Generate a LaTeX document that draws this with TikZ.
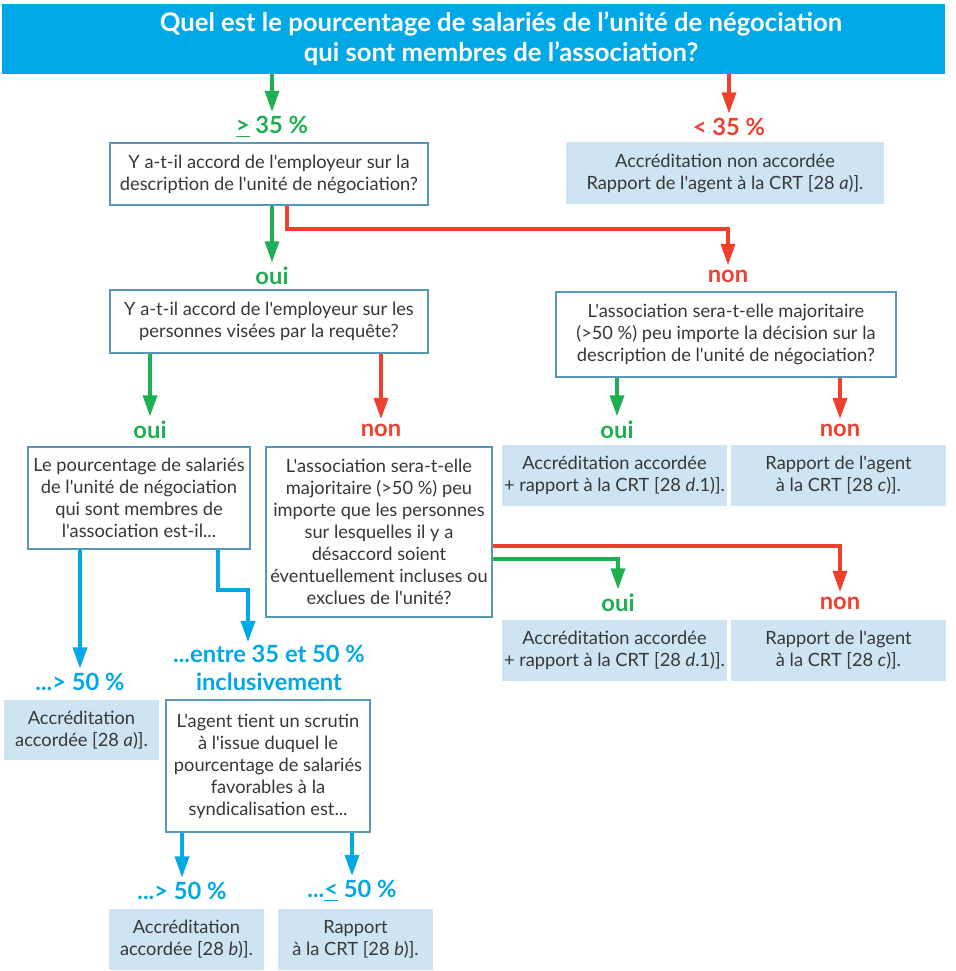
\documentclass[tikz,border=0pt]{standalone}
\usepackage{fontspec}
\setmainfont{Lato}[Ligatures=TeXOff]
\usetikzlibrary{arrows.meta}
\definecolor{bleu}{RGB}{0,169,230}
\definecolor{vert}{RGB}{30,176,80}
\definecolor{rouge}{RGB}{238,64,46}
\definecolor{cadre}{RGB}{88,152,184}
\definecolor{fond}{RGB}{205,229,242}
\definecolor{texte}{RGB}{55,55,55}
\tikzset{every node/.style={text=texte, font=\fontsize{10.4}{12.5}\selectfont, align=center, inner sep=1pt},
  quest/.style={draw=cadre, line width=1.1pt, fill=white},
  resu/.style={fill=fond},
  etiq/.style={font=\fontsize{13.5}{14}\selectfont\bfseries, inner sep=2.5pt},
  fl/.style={line width=1.9pt, -{Triangle[length=12pt,width=8pt]}}}

\begin{document}
\begin{tikzpicture}[x=0.02cm,y=-0.02cm]
   \useasboundingbox (0,0) rectangle (956,971);
   % titre
   \node[fill=bleu, minimum width=18.86cm, minimum height=1.4cm, text=white,
         font=\fontsize{14.6}{17}\selectfont\bfseries] (titre) at (473.5,39)
         {\hspace*{1.1cm}Quel est le pourcentage de salariés de l’unité de négociation\\\hspace*{1.1cm}qui sont membres de l’association?};
   % questions
   \node[quest, minimum width=6.36cm, minimum height=1.24cm] (q1) at (269,174)
         {Y a-t-il accord de l'employeur sur la\\description de l'unité de négociation?};
   \node[quest, minimum width=6.36cm, minimum height=1.26cm] (q2) at (269,321.5)
         {Y a-t-il accord de l'employeur sur les\\personnes visées par la requête?};
   \node[quest, minimum width=6.8cm, minimum height=1.7cm] (q3) at (726,334.5)
         {L'association sera-t-elle majoritaire\\(>50 \%) peu importe la décision sur la\\description de l'unité de négociation?};
   \node[quest, minimum width=4.44cm, minimum height=2.04cm] (q4) at (139,498)
         {Le pourcentage de salariés\\de l'unité de négociation\\qui sont membres de\\l'association est-il...};
   \node[quest, minimum width=4.52cm, minimum height=3.4cm] (q5) at (379,532)
         {L'association sera-t-elle\\majoritaire (>50 \%) peu\\importe que les personnes\\sur lesquelles il y a\\désaccord soient\\éventuellement incluses ou\\exclues de l'unité?};
   \node[quest, minimum width=4.08cm, minimum height=2.64cm] (q6) at (268,766)
         {L'agent tient un scrutin\\à l'issue duquel le\\pourcentage de salariés\\favorables à la\\syndicalisation est...};
   % resultats
   \node[resu, minimum width=6.36cm, minimum height=1.24cm] (r0) at (725,173)
         {Accréditation non accordée\\Rapport de l'agent à la CRT [28 \textit{a})].};
   \node[resu, minimum width=4.3cm, minimum height=1.22cm] (r1) at (614.5,475.5)
         {Accréditation accordée\\+ rapport à la CRT [28 \textit{d}.1)].};
   \node[resu, minimum width=4.3cm, minimum height=1.22cm] (r2) at (838.5,475.5)
         {Rapport de l'agent\\à la CRT [28 \textit{c})].};
   \node[resu, minimum width=4.3cm, minimum height=1.22cm] (r3) at (614.5,650.5)
         {Accréditation accordée\\+ rapport à la CRT [28 \textit{d}.1)].};
   \node[resu, minimum width=4.3cm, minimum height=1.22cm] (r4) at (838.5,650.5)
         {Rapport de l'agent\\à la CRT [28 \textit{c})].};
   \node[resu, minimum width=3.1cm, minimum height=1.2cm] (r5) at (81.5,730)
         {Accréditation\\accordée [28 \textit{a})].};
   \node[resu, minimum width=3.1cm, minimum height=1.22cm] (r6) at (186.5,939.5)
         {Accréditation\\accordée [28 \textit{b})].};
   \node[resu, minimum width=3.1cm, minimum height=1.22cm] (r7) at (355.5,939.5)
         {Rapport\\à la CRT [28 \textit{b})].};
   % etiquettes
   \node[etiq, text=vert]  (e0) at (272,127) {\underline{>} 35 \%};
   \node[etiq, text=rouge] (e1) at (729,127) {< 35 \%};
   \node[etiq, text=vert]  (e2) at (272,276) {oui};
   \node[etiq, text=rouge] (e3) at (728,276) {non};
   \node[etiq, text=vert]  (e4) at (150,430) {oui};
   \node[etiq, text=rouge] (e5) at (381,430) {non};
   \node[etiq, text=vert]  (e6) at (617,430) {oui};
   \node[etiq, text=rouge] (e7) at (840,430) {non};
   \node[etiq, text=vert]  (e8) at (618,603) {oui};
   \node[etiq, text=rouge] (e9) at (840,603) {non};
   \node[etiq, text=bleu]  (e10) at (80,682) {...> 50 \%};
   \node[etiq, text=bleu, font=\fontsize{13.5}{15.5}\selectfont\bfseries] (e11) at (269,668) {...entre 35 et 50 \%\\inclusivement};
   \node[etiq, text=bleu]  (e12) at (182,891) {...> 50 \%};
   \node[etiq, text=bleu]  (e13) at (352,891) {...\underline{<} 50 \%};
   % coudes
   \coordinate (k1) at (287,229);
   \coordinate (k2) at (840,546);
   \coordinate (k3) at (618,559);
   \coordinate (k4) at (218,590);
   \coordinate (k5) at (248,590);
   \coordinate (k6) at (248,642);
   % fleches
   \draw[fl, vert]  (titre.south -| e0) -- (e0.north);
   \draw[fl, rouge] (titre.south -| e1) -- (e1.north);
   \draw[fl, vert]  (q1.south -| e2) -- (e2.north);
   \draw[fl, rouge] (q1.south -| k1) -- (k1) -| (e3.north);
   \draw[fl, vert]  (q2.south -| e4) -- (e4.north);
   \draw[fl, rouge] (q2.south -| e5) -- (e5.north);
   \draw[fl, vert]  (q3.south -| e6) -- (e6.north);
   \draw[fl, rouge] (q3.south -| e7) -- (e7.north);
   \draw[fl, rouge] (q5.east |- k2) -| (e9.north);
   \draw[fl, vert]  (q5.east |- k3) -| (e8.north);
   \draw[fl, bleu]  (q4.south -| e10) -- (e10.north);
   \draw[fl, bleu]  (q4.south -| k4) -- (k4) -- (k5) -- (k6);
   \draw[fl, bleu]  (q6.south -| e12) -- (e12.north);
   \draw[fl, bleu]  (q6.south -| e13) -- (e13.north);
\end{tikzpicture}
\end{document}
